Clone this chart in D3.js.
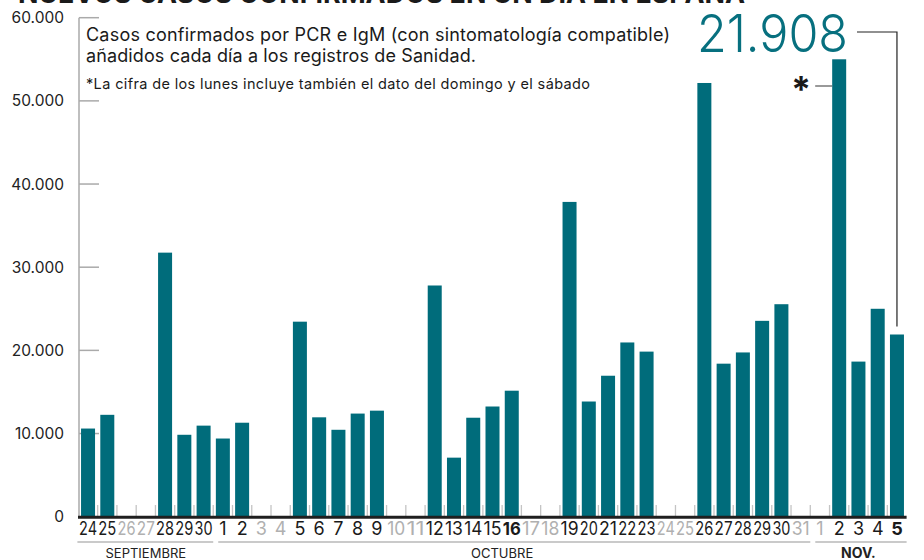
<!DOCTYPE html>
<html>

<head>
    <meta charset="utf-8">
    <style>
        body {
            margin: 0;
            background: white;
        }

        svg {
            display: block;
            font-family: 'Inter', 'Roboto', sans-serif;
        }
    </style>
</head>

<body>
    <svg width="924" height="560"></svg>

    <script src="https://d3js.org/d3.v7.min.js"></script>
    <script>
        // dias del 24 sep al 5 nov (null = fin de semana, sin dato)
        let dayLabels = ["24", "25", "26", "27", "28", "29", "30",
            "1", "2", "3", "4", "5", "6", "7", "8", "9", "10", "11", "12", "13", "14", "15", "16", "17", "18",
            "19", "20", "21", "22", "23", "24", "25", "26", "27", "28", "29", "30", "31",
            "1", "2", "3", "4", "5"]

        let cases = [10600, 12250, null, null, 31750, 9850, 10950,
            9400, 11300, null, null, 23450, 11950, 10450, 12400, 12750, null, null, 27800, 7100, 11900, 13250, 15150, null, null,
            37850, 13850, 16950, 20950, 19850, null, null, 52150, 18400, 19750, 23550, 25550, null,
            null, 55000, 18650, 25000, 21908]

        let boldDays = [22, 42]   // 16 oct y 5 nov

        let months = [
            { name: "SEPTIEMBRE", first: 0, last: 6 },
            { name: "OCTUBRE", first: 7, last: 37 },
            { name: "NOV.", first: 38, last: 42 }
        ]

        let yTicks = [0, 10000, 20000, 30000, 40000, 50000, 60000]

        let teal = "#006c7b"
        let svg = d3.select("svg")

        let x = d3.scaleBand()
            .domain(d3.range(dayLabels.length))
            .range([78.4, 906.6])
            .paddingInner(0.273)
            .paddingOuter(0.137)

        let y = d3.scaleLinear()
            .domain([0, 60000])
            .range([516.7, 17.7])

        let fmt = d3.formatLocale({ decimal: ",", thousands: ".", grouping: [3], currency: ["", "€"] }).format(",")

        // titulo (cortado arriba)
        svg.append("text")
            .attr("x", 18)
            .attr("y", 3)
            .attr("textLength", 727)
            .attr("lengthAdjust", "spacingAndGlyphs")
            .style("font-size", "28px")
            .style("font-weight", 700)
            .style("fill", "#1a1a1a")
            .text("NUEVOS CASOS CONFIRMADOS EN UN DÍA EN ESPAÑA")

        // eje y
        svg.append("line")
            .attr("x1", 79).attr("x2", 79)
            .attr("y1", y(60000)).attr("y2", y(0))
            .style("stroke", "#aaa")
            .style("stroke-width", 1.5)

        svg.selectAll(".ytick")
            .data(yTicks.slice(1))
            .join("line")
            .attr("x1", 79).attr("x2", 99)
            .attr("y1", d => y(d)).attr("y2", d => y(d))
            .style("stroke", "#aaa")
            .style("stroke-width", 1.5)

        svg.selectAll(".ylabel")
            .data(yTicks)
            .join("text")
            .attr("x", 64)
            .attr("y", d => y(d))
            .attr("dy", "0.36em")
            .attr("text-anchor", "end")
            .style("font-size", "15.5px")
            .style("fill", "#222")
            .text(d => d == 0 ? "0" : fmt(d))

        // separadores de dias
        let slot0 = i => x(i) - x.step() * x.paddingInner() / 2
        svg.selectAll(".sep")
            .data(d3.range(1, dayLabels.length))
            .join("line")
            .attr("x1", d => slot0(d))
            .attr("x2", d => slot0(d))
            .attr("y1", 505).attr("y2", y(0))
            .style("stroke", "#c4c4c4")
            .style("stroke-width", 1.3)

        // barras
        svg.selectAll(".bar")
            .data(cases.map((v, i) => ({ v, i })).filter(d => d.v != null))
            .join("rect")
            .attr("x", d => x(d.i))
            .attr("width", x.bandwidth())
            .attr("y", d => y(d.v))
            .attr("height", d => y(0) - y(d.v))
            .style("fill", teal)

        // linea base
        svg.append("line")
            .attr("x1", 78).attr("x2", 906.6)
            .attr("y1", y(0) + 0.5).attr("y2", y(0) + 0.5)
            .style("stroke", "#1f1f1f")
            .style("stroke-width", 3)

        // etiquetas de dias
        let days = svg.selectAll(".day")
            .data(dayLabels)
            .join("text")
            .attr("x", (d, i) => x(i) + x.bandwidth() / 2)
            .attr("y", 535)
            .attr("text-anchor", "middle")
            .style("font-size", "18px")
            .style("font-weight", (d, i) => boldDays.includes(i) ? 700 : 400)
            .style("fill", (d, i) => cases[i] == null ? "#b0b0b0" : "#1a1a1a")
            .text(d => d)
        days.filter(d => d.length == 2)
            .attr("textLength", 18)
            .attr("lengthAdjust", "spacingAndGlyphs")

        // meses
        svg.selectAll(".mline")
            .data(months)
            .join("line")
            .attr("x1", (d, i) => slot0(d.first) + (i == 0 ? -1 : 5))
            .attr("x2", d => slot0(d.last) + x.step())
            .attr("y1", 542).attr("y2", 542)
            .style("stroke", "#b8b8b8")
            .style("stroke-width", 1.5)

        svg.selectAll(".mlabel")
            .data(months)
            .join("text")
            .attr("x", d => d.name == "OCTUBRE" ? x(21) + x.step() / 2 + x.bandwidth() / 2
                : (slot0(d.first) + slot0(d.last) + x.step()) / 2)
            .attr("y", 558)
            .attr("text-anchor", "middle")
            .style("font-size", d => d.name == "NOV." ? "14px" : "13px")
            .style("font-weight", d => d.name == "NOV." ? 700 : 400)
            .style("fill", "#222")
            .text(d => d.name)

        // texto explicativo
        let note = svg.append("g").style("fill", "#1a1a1a")
        note.append("text")
            .attr("x", 86).attr("y", 41)
            .attr("textLength", 584)
            .style("font-size", "18px")
            .text("Casos confirmados por PCR e IgM (con sintomatología compatible)")
        note.append("text")
            .attr("x", 86).attr("y", 62)
            .attr("textLength", 390)
            .style("font-size", "18px")
            .text("añadidos cada día a los registros de Sanidad.")
        note.append("text")
            .attr("x", 86).attr("y", 89)
            .attr("textLength", 504)
            .style("font-size", "14.5px")
            .text("*La cifra de los lunes incluye también el dato del domingo y el sábado")

        // ultimo dato destacado
        let last = cases.length - 1
        let lastX = x(last) + x.bandwidth() / 2
        svg.append("text")
            .attr("x", 848).attr("y", 52)
            .attr("text-anchor", "end")
            .attr("textLength", 151)
            .attr("lengthAdjust", "spacingAndGlyphs")
            .style("font-size", "52px")
            .style("font-weight", 300)
            .style("fill", "#07707f")
            .text(fmt(cases[last]))

        svg.append("path")
            .attr("d", `M857,32 H${lastX} V${y(cases[last]) - 8}`)
            .style("fill", "none")
            .style("stroke", "#222")
            .style("stroke-width", 1.2)

        // asterisco del lunes 2 nov
        let monX = x(39)
        svg.append("text")
            .attr("x", monX - 21).attr("y", 102)
            .attr("text-anchor", "end")
            .style("font-size", "36px")
            .style("font-weight", 700)
            .style("fill", "#1a1a1a")
            .text("*")
        svg.append("line")
            .attr("x1", monX - 17).attr("x2", monX)
            .attr("y1", 86).attr("y2", 86)
            .style("stroke", "#555")
            .style("stroke-width", 1.2)
    </script>
</body>

</html>
